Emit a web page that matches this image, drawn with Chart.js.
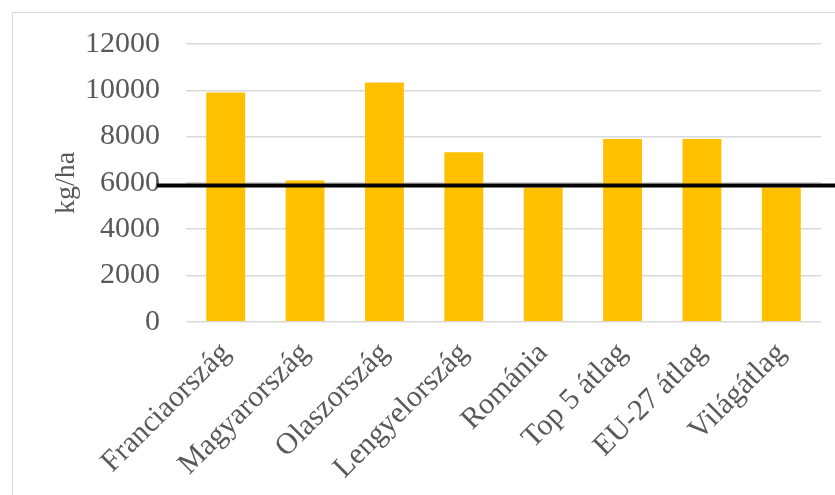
<!DOCTYPE html>
<html>
<head>
<meta charset="utf-8">
<script src="https://cdn.jsdelivr.net/npm/chart.js@4/dist/chart.umd.min.js"></script>
<style>
  html, body { margin: 0; padding: 0; background: #fff; overflow: hidden; }
  #wrap { position: relative; width: 835px; height: 495px; }
</style>
</head>
<body>
<div id="wrap"><canvas id="c" width="835" height="495"></canvas></div>
<script>
// Yields in kg/ha by country / group
const categories = ['Franciaország', 'Magyarország', 'Olaszország', 'Lengyelország', 'Románia', 'Top 5 átlag', 'EU-27 átlag', 'Világátlag'];
const yields = [9900, 6100, 10340, 7320, 5800, 7890, 7890, 5800];
const referenceLine = 5880;
const yTicks = [0, 2000, 4000, 6000, 8000, 10000, 12000];
const axisTitle = 'kg/ha';

const FONT = '"Liberation Serif", "Times New Roman", serif';
const TEXT = '#595959';

// Light frame around the chart, open on the right/bottom
const framePlugin = {
  id: 'frame',
  beforeDraw(chart) {
    const ctx = chart.ctx;
    ctx.save();
    ctx.strokeStyle = '#d9d9d9';
    ctx.lineWidth = 1;
    ctx.strokeRect(12.5, 12.5, chart.width + 20, chart.height + 20);
    ctx.restore();
  }
};

// Horizontal reference line across the plot, from the tick labels to the edge
const refLinePlugin = {
  id: 'refLine',
  afterDatasetsDraw(chart) {
    const y = chart.scales.y.getPixelForValue(referenceLine);
    const ctx = chart.ctx;
    ctx.save();
    ctx.strokeStyle = '#000';
    ctx.lineWidth = 4;
    ctx.beginPath();
    ctx.moveTo(chart.chartArea.left - 29, y);
    ctx.lineTo(chart.width, y);
    ctx.stroke();
    ctx.restore();
  }
};

new Chart(document.getElementById('c'), {
  type: 'bar',
  data: {
    labels: categories,
    datasets: [{
      data: yields,
      backgroundColor: '#FFC000',
      borderWidth: 0,
      categoryPercentage: 1,
      barPercentage: 0.49
    }]
  },
  options: {
    responsive: false,
    animation: false,
    layout: { padding: { left: 50, right: 14, top: 19, bottom: 3 } },
    plugins: { legend: { display: false }, tooltip: { enabled: false } },
    scales: {
      x: {
        grid: { display: false },
        border: { display: false },
        ticks: {
          color: TEXT,
          font: { family: FONT, size: 30 },
          minRotation: 45,
          maxRotation: 45,
          padding: 6
        }
      },
      y: {
        min: 0,
        max: 12000,
        afterBuildTicks(scale) { scale.ticks = yTicks.map(v => ({ value: v })); },
        afterFit(scale) { scale.width = 136; },
        grid: { color: '#d9d9d9', lineWidth: 1.5, drawTicks: false },
        border: { display: false },
        ticks: {
          color: TEXT,
          font: { family: FONT, size: 30 },
          padding: 26,
          callback: v => String(v)
        },
        title: {
          display: true,
          text: axisTitle,
          color: TEXT,
          font: { family: FONT, size: 28 },
          padding: 0
        }
      }
    }
  },
  plugins: [framePlugin, refLinePlugin]
});
</script>
</body>
</html>
